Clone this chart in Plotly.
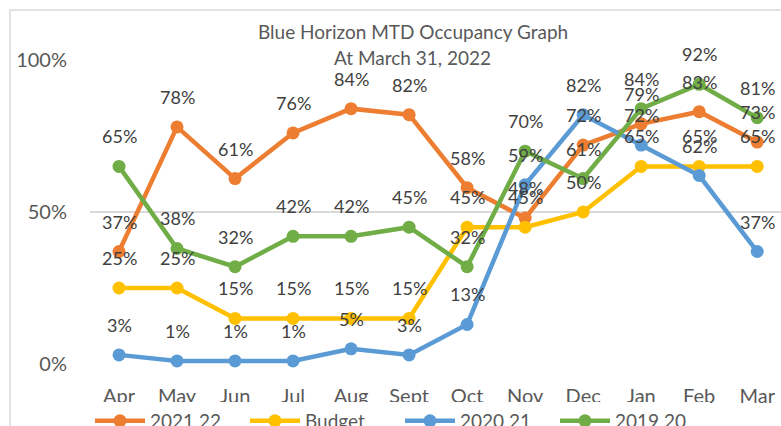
import plotly.graph_objects as go

months = ["Apr", "May", "Jun", "Jul", "Aug", "Sept", "Oct", "Nov", "Dec", "Jan", "Feb", "Mar"]
fy2021_22 = [37, 78, 61, 76, 84, 82, 58, 48, 72, 79, 83, 73]
budget = [25, 25, 15, 15, 15, 15, 45, 45, 50, 65, 65, 65]
fy2020_21 = [3, 1, 1, 1, 5, 3, 13, 59, 82, 72, 62, 37]
fy2019_20 = [65, 38, 32, 42, 42, 45, 32, 70, 61, 84, 92, 81]
y_ticks = [0, 50, 100]
y_tick_labels = ["0%", "50%", "100%"]

series = [
    ("2021 22", fy2021_22, "#ED7D31"),
    ("Budget", budget, "#FFC000"),
    ("2020 21", fy2020_21, "#5B9BD5"),
    ("2019 20", fy2019_20, "#70AD47"),
]

FONT = "Lato, Carlito, Calibri, sans-serif"
fig = go.Figure()
annotations = []
for name, vals, color in series:
    fig.add_trace(go.Scatter(
        x=months, y=vals, name=name, mode="lines+markers",
        line=dict(color=color, width=4.5),
        marker=dict(color=color, size=13),
        cliponaxis=False, hoverinfo="skip",
    ))
    for m, v in zip(months, vals):
        annotations.append(dict(
            x=m, y=v, xref="x", yref="y", text=f"{v}%", showarrow=False,
            yshift=30, yanchor="middle", xanchor="center",
            font=dict(family=FONT, size=18, color="#404040"),
        ))

annotations.append(dict(x=0.467, y=1.095, xref="paper", yref="paper",
                        xanchor="center", yanchor="middle",
                        text="Blue Horizon MTD Occupancy Graph", showarrow=False,
                        font=dict(family=FONT, size=19, color="#595959")))
annotations.append(dict(x=0.467, y=1.0066, xref="paper", yref="paper",
                        xanchor="center", yanchor="middle",
                        text="At March 31, 2022", showarrow=False,
                        font=dict(family=FONT, size=19, color="#595959")))

fig.update_layout(
    width=781, height=426, autosize=False,
    margin=dict(l=90, r=0, t=60, b=62, autoexpand=False),
    paper_bgcolor="white", plot_bgcolor="white",
    font=dict(family=FONT, color="#595959"),
    annotations=annotations,
    showlegend=True,
    legend=dict(orientation="h", x=0.0, xanchor="left", y=-0.1875, yanchor="middle",
                font=dict(family=FONT, size=19, color="#595959"),
                entrywidth=90, entrywidthmode="pixels", itemwidth=50),
    xaxis=dict(range=[-0.5, 11.41], showgrid=False, zeroline=False, showline=False,
               tickfont=dict(family=FONT, size=20, color="#595959"),
               ticks="", ticklabelstandoff=18),
    yaxis=dict(range=[0, 100], tickvals=y_ticks, ticktext=y_tick_labels,
               showgrid=True, gridcolor="#D9D9D9", gridwidth=1.5,
               zeroline=False, showline=False,
               tickfont=dict(family=FONT, size=20, color="#595959"),
               ticklabelstandoff=22),
    shapes=[dict(type="rect", xref="paper", yref="paper",
                 x0=-0.1158, x1=1.2, y0=1.1645, y1=-0.5,
                 line=dict(color="#D9D9D9", width=1.5), layer="below")],
)

fig.write_html(
    "out.html",
    config={"displayModeBar": False},
    post_script="document.body.style.margin='0';document.body.style.overflow='hidden';",
)
